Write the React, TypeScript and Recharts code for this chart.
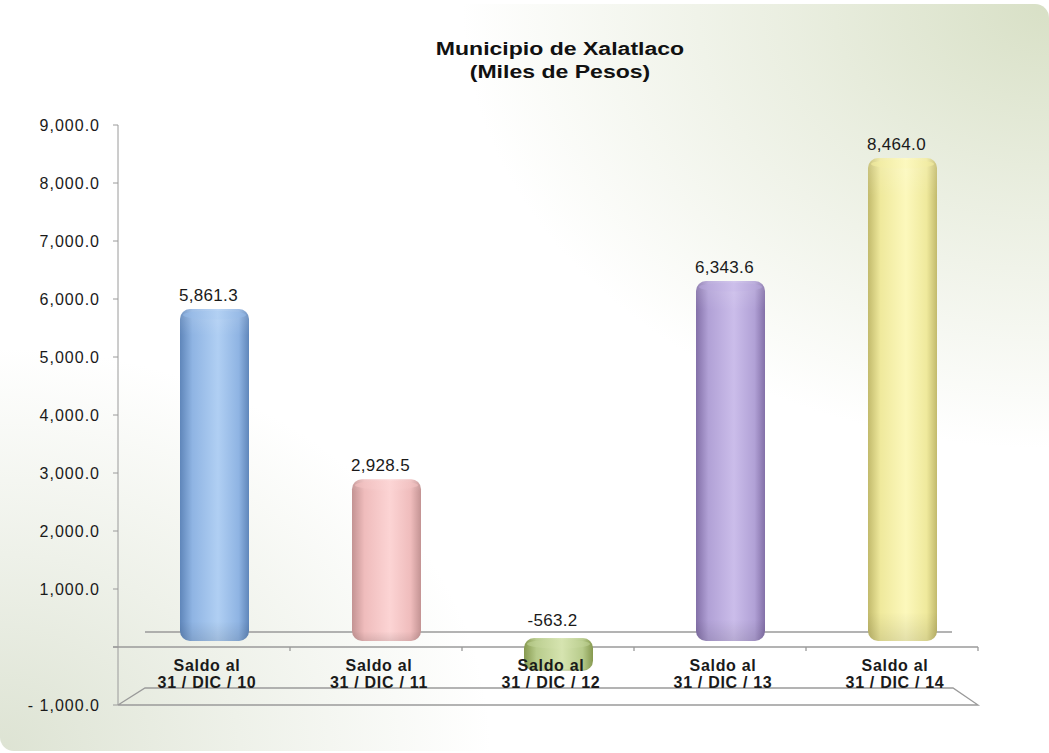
import { BarChart, Bar, XAxis, YAxis, ReferenceLine, LabelList } from 'recharts';

// datos
const categories = ['31 / DIC / 10', '31 / DIC / 11', '31 / DIC / 12', '31 / DIC / 13', '31 / DIC / 14'];
const saldos = [5861.3, 2928.5, -563.2, 6343.6, 8464.0];
const yTicks = [-1000, 0, 1000, 2000, 3000, 4000, 5000, 6000, 7000, 8000, 9000];

// [borde, medio, brillo]
const barColors = [
  ['#5f86ba', '#8fb4e3', '#b0cff3'],
  ['#c39393', '#efbcbc', '#fcd4d4'],
  ['#86994f', '#b7cb8b', '#d6e4b0'],
  ['#8370a8', '#b1a1d6', '#cbbdea'],
  ['#c2ba6c', '#efe99c', '#fcf8bc'],
];

const data = categories.map((c, i) => ({ cat: c, saldo: saldos[i] }));

const DX = 10;
const font = '"Liberation Sans", Arial, sans-serif';
const W = 1049;
const H = 753;
const margin = { top: 125, right: 71, bottom: 18, left: 0 };

const fmt = (v: number) => {
  if (v === 0) return '';
  const s = Math.abs(v).toLocaleString('en-US', { minimumFractionDigits: 1, maximumFractionDigits: 1 });
  return v < 0 ? `- ${s}` : s;
};

// tramo dibujado del cilindro (ajustado a la perspectiva 3D)
const span = (y: number, height: number, value: number) => {
  const top = Math.min(y, y + height);
  const bottom = Math.max(y, y + height);
  if (value >= 0) return { top: top + 2, bottom: bottom - 6 };
  return { top: top - 9, bottom: bottom - 9 };
};

const Cylinder = (props: any) => {
  const { x, y, width, height, index, payload } = props;
  const { top, bottom } = span(y, height, payload.saldo);
  const h = Math.max(bottom - top, 8);
  const cx = x + DX;
  const r = Math.min(10, h / 2);
  return (
    <g>
      <rect x={cx} y={top} width={width} height={h} rx={r} ry={r} fill={`url(#cyl${index})`} />
      <rect x={cx} y={top} width={width} height={h} rx={r} ry={r} fill="url(#shadeV)" />
      <ellipse cx={cx + width / 2} cy={top + 6} rx={width / 2 - 3} ry={4.5} fill={`url(#cap${index})`} opacity={0.75} />
    </g>
  );
};

const ValueLabel = (props: any) => {
  const { x, y, width, height, value } = props;
  const { top } = span(y, height, value);
  return (
    <text
      x={x + DX + width / 2 - 6}
      y={value >= 0 ? top - 8 : top - 12}
      textAnchor="middle"
      fontFamily={font}
      fontSize={17}
      letterSpacing={0.3}
      fill="#1a1a1a"
    >
      {value.toLocaleString('en-US', { minimumFractionDigits: 1, maximumFractionDigits: 1 })}
    </text>
  );
};

const CatTick = (props: any) => {
  const { x, y, payload } = props;
  return (
    <g>
      <text x={x + 3} y={y - 34} textAnchor="middle" fontFamily={font} fontSize={16} fontWeight="bold" letterSpacing={0.7} fill="#1a1a1a">
        Saldo al
      </text>
      <text x={x + 3} y={y - 17} textAnchor="middle" fontFamily={font} fontSize={16} fontWeight="bold" letterSpacing={0.7} fill="#1a1a1a">
        {payload.value}
      </text>
    </g>
  );
};

// piso 3D al nivel cero
const FloorZero = (props: any) => {
  const { x1, x2, y1 } = props;
  const step = (x2 - x1) / categories.length;
  return (
    <g stroke="#9a9a9a" strokeWidth={1.3} fill="none">
      <line x1={x1 - 5} y1={y1} x2={x2} y2={y1} />
      <line x1={x1 + 27} y1={y1 - 15} x2={x2 - 26} y2={y1 - 15} />
      {categories.map((_, i) => (
        <line key={i} x1={x1 + step * (i + 1)} y1={y1} x2={x1 + step * (i + 1)} y2={y1 + 4} />
      ))}
    </g>
  );
};

// plano inferior 3D
const FloorBottom = (props: any) => {
  const { x1, x2, y1 } = props;
  return (
    <g stroke="#9a9a9a" strokeWidth={1.3} fill="none">
      <polyline points={`${x1},${y1} ${x1 + 27},${y1 - 17} ${x2 - 25},${y1 - 17} ${x2},${y1} ${x1},${y1}`} />
    </g>
  );
};

const axisY = (hideTicks: boolean) => (
  <YAxis
    width={118}
    domain={[-1000, 9000]}
    ticks={yTicks}
    interval={0}
    tickFormatter={fmt}
    stroke={hideTicks ? 'none' : '#9a9a9a'}
    tickSize={5}
    tickMargin={13}
    tick={hideTicks ? false : { fill: '#1a1a1a', fontSize: 16, fontFamily: font, letterSpacing: 1 }}
  />
);

export default function App() {
  return (
    <div style={{ position: 'absolute', left: 0, top: 0, width: W, height: H, background: '#fff', overflow: 'hidden' }}>
      <div
        style={{
          position: 'absolute',
          left: 0,
          top: 4,
          width: W,
          height: 747,
          borderRadius: 14,
          background:
            'radial-gradient(ellipse 80% 85% at 100% 0%, #d8e0c6 0%, rgba(216,224,198,0.55) 30%, rgba(255,255,255,0) 70%), radial-gradient(ellipse 65% 75% at 0% 100%, #dde3d3 0%, rgba(221,227,211,0.5) 35%, rgba(255,255,255,0) 72%), #ffffff',
        }}
      />
      <div
        style={{
          position: 'absolute',
          left: 0,
          top: 38,
          textAlign: 'center',
          fontFamily: font,
          fontWeight: 'bold',
          fontSize: 18,
          lineHeight: '23px',
          color: '#111',
          transform: 'scaleX(1.28)',
          transformOrigin: '0 0',
        }}
      >
        <div style={{ width: 875 }}>Municipio de Xalatlaco</div>
        <div style={{ width: 875 }}>(Miles de Pesos)</div>
      </div>
      {/* piso 3D, debajo de los cilindros */}
      <div style={{ position: 'absolute', left: 0, top: 0 }}>
        <BarChart width={W} height={H} data={data} margin={margin}>
          {axisY(true)}
          <XAxis dataKey="cat" axisLine={false} tickLine={false} tick={false} height={30} />
          <Bar dataKey="saldo" barSize={69} fill="none" isAnimationActive={false} />
          <ReferenceLine y={-1000} shape={FloorBottom} />
          <ReferenceLine y={0} shape={FloorZero} />
        </BarChart>
      </div>
      <div style={{ position: 'absolute', left: 0, top: 0 }}>
        <BarChart width={W} height={H} data={data} margin={margin}>
          <defs>
            {barColors.map(([edge, mid, hi], i) => (
              <linearGradient key={`c${i}`} id={`cyl${i}`} x1="0" y1="0" x2="1" y2="0">
                <stop offset="0%" stopColor={edge} />
                <stop offset="18%" stopColor={mid} />
                <stop offset="55%" stopColor={hi} />
                <stop offset="85%" stopColor={mid} />
                <stop offset="100%" stopColor={edge} />
              </linearGradient>
            ))}
            {barColors.map(([, mid, hi], i) => (
              <linearGradient key={`p${i}`} id={`cap${i}`} x1="0" y1="0" x2="1" y2="0">
                <stop offset="0%" stopColor={mid} />
                <stop offset="55%" stopColor={hi} />
                <stop offset="100%" stopColor={mid} />
              </linearGradient>
            ))}
            <linearGradient id="shadeV" x1="0" y1="0" x2="0" y2="1">
              <stop offset="0%" stopColor="#ffffff" stopOpacity={0.15} />
              <stop offset="8%" stopColor="#ffffff" stopOpacity={0} />
              <stop offset="94%" stopColor="#000000" stopOpacity={0} />
              <stop offset="100%" stopColor="#000000" stopOpacity={0.1} />
            </linearGradient>
          </defs>
          {axisY(false)}
          <Bar dataKey="saldo" barSize={69} shape={Cylinder} isAnimationActive={false}>
            <LabelList dataKey="saldo" content={ValueLabel} />
          </Bar>
          <XAxis dataKey="cat" axisLine={false} tickLine={false} tickSize={0} tickMargin={0} height={30} interval={0} tick={CatTick} />
        </BarChart>
      </div>
    </div>
  );
}
